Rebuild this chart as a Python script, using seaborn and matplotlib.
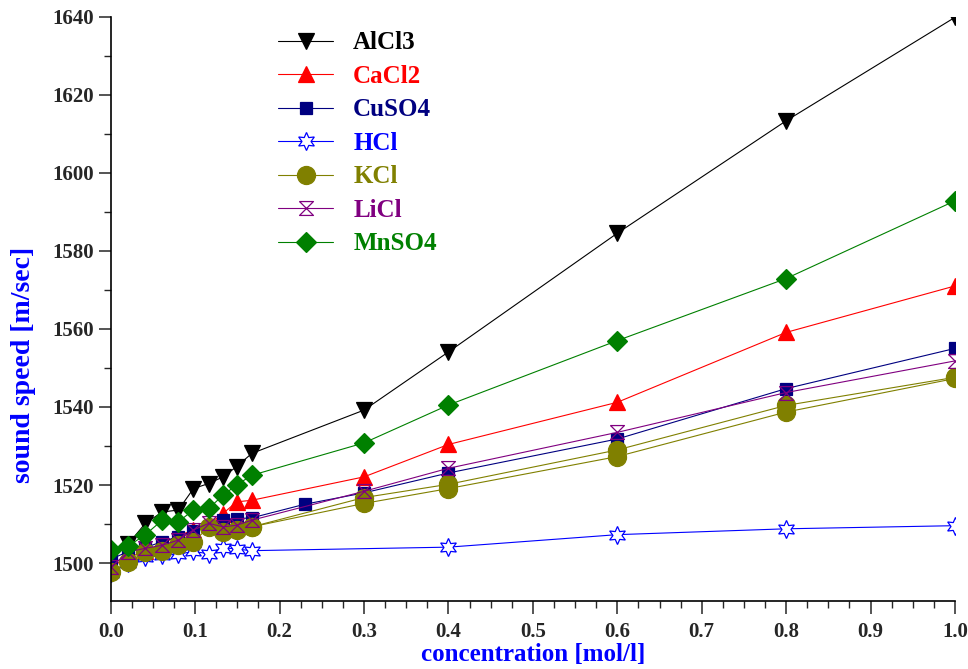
"""Sound speed vs. concentration for several salt solutions."""

import matplotlib
matplotlib.use("Agg")
import matplotlib.pyplot as plt
from matplotlib.ticker import MultipleLocator, FormatStrFormatter
import numpy as np
import seaborn as sns

# concentrations [mol/l] (low range shared by most series)
x_low = [0.0, 0.021, 0.041, 0.061, 0.08, 0.098, 0.116, 0.133, 0.149, 0.167]
x_high = [0.3, 0.4, 0.6, 0.8, 1.0]

alcl3_x = x_low + x_high
alcl3_y = [1502.0, 1505.0, 1510.2, 1513.1, 1513.6, 1519.1, 1520.4, 1522.1, 1524.7, 1528.1,
           1539.2, 1554.1, 1584.5, 1613.3, 1639.8]

cacl2_x = x_low + x_high
cacl2_y = [1499.0, 1501.5, 1503.0, 1505.0, 1507.0, 1508.5, 1510.0, 1512.7, 1515.7, 1516.1,
           1522.1, 1530.4, 1541.2, 1559.1, 1571.0]

cuso4_x = x_low + [0.23] + x_high
cuso4_y = [1501.0, 1503.0, 1504.0, 1505.5, 1506.8, 1508.2, 1509.3, 1511.0, 1511.4, 1511.6,
           1515.1, 1518.0, 1523.1, 1531.8, 1544.7, 1555.0]

hcl_x = x_low + [0.4, 0.6, 0.8, 1.0]
hcl_y = [1497.5, 1500.0, 1501.5, 1502.0, 1502.3, 1503.0, 1502.4, 1504.0, 1503.6, 1503.2,
         1504.1, 1507.3, 1508.8, 1509.6]

kcl_x = x_low + x_high
kcl_y = [1497.8, 1500.3, 1502.9, 1503.0, 1504.6, 1505.5, 1509.2, 1508.0, 1508.5, 1509.3,
         1516.8, 1520.2, 1529.0, 1540.4, 1547.6]
# second KCl run (drawn with the same style, no legend entry)
kcl2_x = [0.167, 0.3, 0.4, 0.6, 0.8, 1.0]
kcl2_y = [1509.3, 1515.3, 1519.1, 1527.3, 1538.7, 1547.3]

licl_x = x_low + x_high
licl_y = [1499.0, 1502.9, 1503.8, 1504.6, 1505.9, 1508.5, 1510.2, 1509.3, 1509.7, 1511.0,
          1518.4, 1524.3, 1533.5, 1543.7, 1551.8]

mnso4_x = x_low + x_high
mnso4_y = [1503.3, 1504.4, 1507.3, 1511.0, 1510.6, 1513.6, 1514.0, 1517.4, 1520.0, 1522.5,
           1530.8, 1540.5, 1557.0, 1572.9, 1592.8]

sns.set_style("ticks")
plt.rcParams["font.family"] = ["Liberation Serif", "DejaVu Serif"]
plt.rcParams["font.weight"] = "bold"

hourglass = [(-1, 1), (1, 1), (-1, -1), (1, -1), (-1, 1)]

series = [
    ("AlCl3", alcl3_x, alcl3_y, "#000000", dict(marker="v", markersize=12, mfc="#000000")),
    ("CaCl2", cacl2_x, cacl2_y, "#ff0000", dict(marker="^", markersize=12, mfc="#ff0000")),
    ("CuSO4", cuso4_x, cuso4_y, "#000080", dict(marker="s", markersize=9, mfc="#000080")),
    ("HCl", hcl_x, hcl_y, "#0000ff", dict(marker=(6, 1, 0), markersize=13, mfc="white")),
    ("KCl", kcl_x, kcl_y, "#808000", dict(marker="o", markersize=13, mfc="#808000")),
    ("LiCl", licl_x, licl_y, "#800080", dict(marker=hourglass, markersize=10, mfc="none")),
    ("MnSO4", mnso4_x, mnso4_y, "#008000", dict(marker="D", markersize=10, mfc="#008000")),
]

fig = plt.figure(figsize=(9.68, 6.69), dpi=100)
ax = fig.add_axes([0.1144, 0.1016, 0.8722, 0.8737])

for name, xs, ys, color, mk in series:
    sns.lineplot(x=np.array(xs), y=np.array(ys), ax=ax, color=color, linewidth=0.8,
                 sort=False, estimator=None, label=name, markeredgecolor=color,
                 markeredgewidth=0.9, **mk)
    if name == "KCl":
        sns.lineplot(x=np.array(kcl2_x), y=np.array(kcl2_y), ax=ax, color=color,
                     linewidth=0.8, sort=False, estimator=None, legend=False,
                     markeredgecolor=color, markeredgewidth=0.9, **mk)

ax.set_xlim(0.0, 1.0)
ax.set_ylim(1490.3, 1640)
ax.xaxis.set_major_locator(MultipleLocator(0.1))
ax.xaxis.set_minor_locator(MultipleLocator(0.025))
ax.yaxis.set_major_locator(MultipleLocator(20))
ax.yaxis.set_minor_locator(MultipleLocator(10))
ax.xaxis.set_major_formatter(FormatStrFormatter("%.1f"))
ax.yaxis.set_major_formatter(FormatStrFormatter("%d"))
ax.tick_params(which="major", length=9, width=1.1, direction="out", labelsize=15, pad=3)
ax.tick_params(axis="x", which="major", pad=6)
ax.tick_params(which="minor", length=5, width=1.0, direction="out")
for lbl in ax.get_xticklabels() + ax.get_yticklabels():
    lbl.set_fontweight("bold")

sns.despine(ax=ax)
for side in ("left", "bottom"):
    ax.spines[side].set_linewidth(1.2)
    ax.spines[side].set_color("black")

ax.set_xlabel("concentration [mol/l]", fontsize=18, fontweight="bold", color="#0000ff")
ax.xaxis.set_label_coords(0.5, -0.072)
ax.set_ylabel("sound speed [m/sec]", fontsize=20, fontweight="bold", color="#0000ff")
ax.yaxis.set_label_coords(-0.088, 0.404)

leg = ax.legend(loc="upper left", bbox_to_anchor=(0.277, 0.968), bbox_transform=fig.transFigure,
                frameon=False, fontsize=18, handlelength=2.2, handletextpad=0.8,
                labelspacing=0.42, borderaxespad=0)
for text, (name, xs, ys, color, mk) in zip(leg.get_texts(), series):
    text.set_color(color)
    text.set_fontweight("bold")

fig.savefig("out.png", dpi=100)
